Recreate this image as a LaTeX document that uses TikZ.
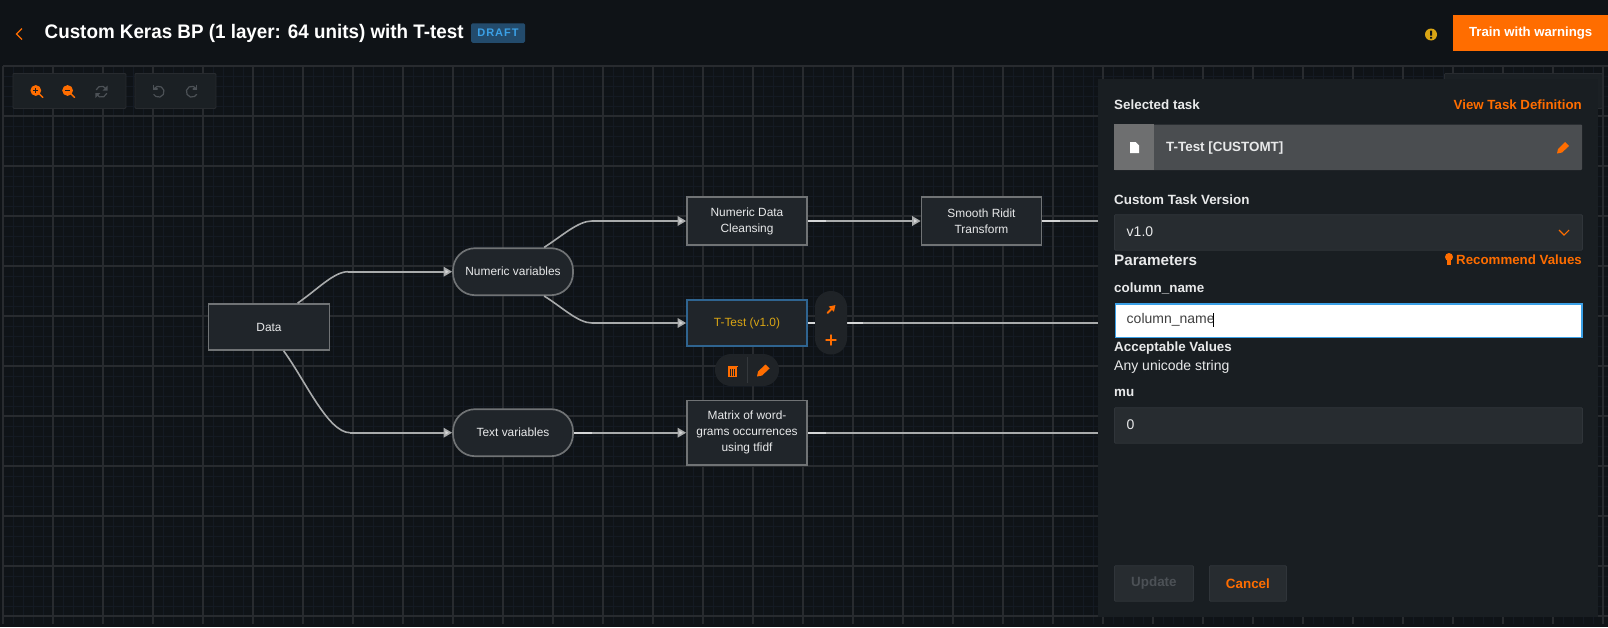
\documentclass[tikz,border=0pt]{standalone}
\usepackage{fontspec}
\setmainfont{Liberation Sans}
\newfontfamily\titlefont[FakeStretch=0.96]{Liberation Sans}
\usetikzlibrary{arrows.meta,calc,positioning}
\definecolor{pagebg}{HTML}{0F1317}
\definecolor{gridminor}{HTML}{141A23}
\definecolor{gridmajor}{HTML}{282B2F}
\definecolor{nodefill}{HTML}{20252A}
\definecolor{nodeline}{HTML}{707375}
\definecolor{edgecol}{HTML}{A9ABAC}
\definecolor{edgelight}{HTML}{D5D6D7}
\definecolor{panelbg}{HTML}{191E22}
\definecolor{fieldbg}{HTML}{272C30}
\definecolor{fieldline}{HTML}{30353A}
\definecolor{accent}{HTML}{FF6D00}
\definecolor{focusblue}{HTML}{3BA0E6}
\definecolor{selblue}{HTML}{2F6490}
\definecolor{ambertext}{HTML}{D9A514}
\definecolor{softwhite}{HTML}{E8E9EA}
\definecolor{disabledgray}{HTML}{4C5156}
\definecolor{toolbg}{HTML}{1B2024}
\definecolor{pilldivider}{HTML}{34383C}
\newcommand{\pxfont}[1]{\fontsize{#1}{16}\selectfont}
\tikzset{
  x=1pt,y=-1pt,
  rectnode/.style={draw=nodeline,line width=1.7pt,fill=nodefill,text=softwhite,minimum width=120pt,minimum height=47pt,align=center,inner sep=0pt,font=\pxfont{11.9}},
  pillnode/.style={rectnode,rounded corners=22pt},
  flowedge/.style={draw=edgecol,line width=1.6pt,-{Triangle[length=8.5pt,width=9.5pt,fill=edgelight]}},
  plainedge/.style={draw=edgecol,line width=1.6pt},
  edgestub/.style={draw=edgelight,line width=1.6pt},
  fieldlabel/.style={anchor=west,inner sep=0pt,text=softwhite,font=\pxfont{13.4}\bfseries},
  linktext/.style={anchor=east,inner sep=0pt,text=accent,font=\pxfont{13.3}\bfseries},
  fieldbox/.style={draw=fieldline,line width=0.8pt,fill=fieldbg,rounded corners=1pt,anchor=north west,inner sep=0pt},
  valuetext/.style={anchor=west,inner sep=0pt,text=softwhite,font=\pxfont{14}},
  toolbox/.style={draw=gridmajor,line width=0.8pt,fill=toolbg,rounded corners=1pt,anchor=north west,inner sep=0pt},
  pillbg/.style={fill=toolbg!70!gridmajor,draw=none},
  iconline/.style={draw=accent,line width=1.4pt,line cap=round},
  mutedicon/.style={draw=disabledgray,line width=1.2pt,line cap=round},
}
\begin{document}
\begin{tikzpicture}
\useasboundingbox (0,0) rectangle (1608,627);
\fill[pagebg] (0,0) rectangle (1608,627);
% grid
\foreach \gx in {3,13,...,1608} \draw[gridminor,line width=0.7pt] (\gx,66) -- (\gx,624);
\foreach \gy in {66,76,...,624} \draw[gridminor,line width=0.7pt] (3,\gy) -- (1608,\gy);
\foreach \gx in {3,53,...,1608} \draw[gridmajor,line width=1.2pt] (\gx,66) -- (\gx,624);
\foreach \gy in {66,116,...,624} \draw[gridmajor,line width=1.2pt] (3,\gy) -- (1608,\gy);
% header
\draw[accent,line width=1.3pt] (22,28.5) -- (16.5,34) -- (22,39.5);
\node[anchor=west,inner sep=0pt,text=white,font=\titlefont\pxfont{19.6}\bfseries] (title) at (44.5,33) {Custom Keras BP (1 layer: 64 units) with T-test};
\node[fill=selblue!75!black,rounded corners=1.5pt,minimum width=54pt,minimum height=19.5pt,inner sep=0pt,text=focusblue,font=\pxfont{11}\bfseries] (draft) at (498,33) {D\kern1pt R\kern1pt A\kern1pt F\kern1pt T};
\fill[ambertext] (1431,34.5) circle (6);
\fill[pagebg] (1430,30.5) rectangle (1432,35.5) (1430,36.8) rectangle (1432,38.6);
\node[fill=accent,minimum width=155pt,minimum height=36pt,inner sep=0pt,text=white,font=\pxfont{13.2}\bfseries,anchor=north west] (train) at (1453,15) {Train with warnings};
% toolbars
\node[toolbox,minimum width=113pt,minimum height=35pt] (tools1) at (12.5,73) {};
\node[toolbox,minimum width=81pt,minimum height=35pt] (tools2) at (134.5,73) {};
\foreach \zx/\sym in {36.8/1,68.6/0}{
  \fill[accent] (\zx-1,90.5) circle (5.4);
  \draw[accent,line width=1.4pt,line cap=round] (\zx+2.5,94) -- (\zx+6,97.5);
  \draw[toolbg,line width=1.2pt] (\zx-3.6,90.5) -- (\zx+1.6,90.5);
  \ifnum\sym=1 \draw[toolbg,line width=1.2pt] (\zx-1,87.9) -- (\zx-1,93.1); \fi
}
\draw[mutedicon] (96.2,89.8) arc (-160:-30:5.5);
\fill[disabledgray] (107.5,85.5) -- (107.5,90.5) -- (102.5,90.5) -- cycle;
\draw[mutedicon] (106.6,93.6) arc (20:150:5.5);
\fill[disabledgray] (95.3,98) -- (95.3,93) -- (100.3,93) -- cycle;
\draw[mutedicon] (153.8,88.95) arc (-150:150:5.5);
\draw[mutedicon] (153.8,85.5) -- (153.8,89) -- (157.3,89);
\draw[mutedicon] (196.6,88.95) arc (-30:-330:5.5);
\draw[mutedicon] (196.6,85.5) -- (196.6,89) -- (193.1,89);
% panel behind and panel
\node[toolbox,minimum width=158pt,minimum height=35pt] (ghost) at (1444,73) {};
\node[fill=panelbg,anchor=north west,minimum width=500pt,minimum height=538pt,inner sep=0pt] (panel) at (1098,79) {};
% graph nodes
\node[rectnode,minimum width=121pt,minimum height=46pt] (data) at (269,327) {Data};
\node[pillnode] (numeric) at (513,271.7) {Numeric variables};
\node[pillnode] (textvars) at (513,432.7) {Text variables};
\node[rectnode,minimum height=48pt] (cleansing) at (747,221) {Numeric Data\\Cleansing};
\node[rectnode,minimum height=48pt] (smooth) at (981.5,221) {Smooth Ridit\\Transform};
\node[rectnode,draw=selblue,text=ambertext,minimum height=46pt] (ttest) at (747,323) {T-Test (v1.0)};
\node[rectnode,minimum height=64.5pt] (matrix) at (747,432.7) {Matrix of word-\\grams occurrences\\using tfidf};
% connectors
\draw[plainedge] ($(data.north west)+(90,0)$) .. controls (318,289) and (334,271.7) .. (348,271.7) coordinate (c1);
\draw[flowedge] (c1) -- (numeric.west);
\draw[plainedge] ($(data.south west)+(76,0)$) .. controls (305,380) and (328,432.7) .. (350,432.7) coordinate (c2);
\draw[flowedge] (c2) -- (textvars.west);
\draw[plainedge] ($(numeric.north west)+(92,0)$) .. controls (562,236) and (578,221) .. (592,221) coordinate (c3);
\draw[flowedge] (c3) -- (cleansing.west);
\draw[plainedge] ($(numeric.south west)+(92,0)$) .. controls (562,307) and (578,323) .. (592,323) coordinate (c4);
\draw[flowedge] (c4) -- (ttest.west);
\draw[flowedge] (textvars.east) -- (matrix.west);
\draw[flowedge] (cleansing.east) -- (smooth.west);
\draw[plainedge] (smooth.east) -- (panel.west |- smooth.east);
\draw[plainedge] (ttest.east) -- (panel.west |- ttest.east);
\draw[plainedge] (matrix.east) -- (panel.west |- matrix.east);
\draw[edgestub] (textvars.east) -- ++(18,0);
\draw[edgestub] (cleansing.east) -- ++(18,0);
\draw[edgestub] (smooth.east) -- ++(18,0);
\draw[edgestub] (ttest.east) -- ++(55,0);
\draw[edgestub] (matrix.east) -- ++(18,0);
% T-test floating actions
\fill[pillbg,rounded corners=16pt] (815,291) rectangle (847,354.5);
\draw[iconline,line width=1.8pt,-{Triangle[length=6pt,width=7pt]}] (827.5,313) -- (835.5,305);
\draw[iconline] (831,335) -- (831,345) (826,340) -- (836,340);
\fill[pillbg,rounded corners=16pt] (715,354) rectangle (779,386);
\draw[pilldivider,line width=0.7pt] (747,357) -- (747,383);
\fill[accent] (727.5,365.5) rectangle (737.5,367);
\draw[accent,line width=1.5pt] (728.8,368) rectangle (736.2,376.5);
\draw[accent,line width=0.9pt] (731.5,369) -- (731.5,375.5) (733.5,369) -- (733.5,375.5);
\fill[accent] (757,376.5) -- (758,371.5) -- (765.5,364.5) -- (769.5,368.5) -- (762,375.5) -- cycle;
% panel content
\node[fieldlabel] (selected) at (1114,105) {Selected task};
\node[linktext] (viewdef) at (1582,105) {View Task Definition};
\node[fill=fieldbg!60!gray,rounded corners=1pt,anchor=north west,minimum width=468pt,minimum height=45.5pt,inner sep=0pt] (taskbar) at (1114,124.3) {};
\fill[gray!80!fieldbg] (1114,124.3) rectangle (1154,169.8);
\fill[white] (1130,142) -- (1135.5,142) -- (1139,145.5) -- (1139,153) -- (1130,153) -- cycle;
\node[anchor=west,inner sep=0pt,text=softwhite,font=\pxfont{13.4}\bfseries] (tasklabel) at (1166,147.6) {T-Test [CUSTOMT]};
\fill[accent] (1557,153.5) -- (1558,149) -- (1565,142) -- (1569,146) -- (1562,152.5) -- cycle;
\node[fieldlabel] (versionlabel) at (1114,200) {Custom Task Version};
\node[fieldbox,minimum width=468pt,minimum height=35.5pt] (version) at (1114,214.3) {};
\node[valuetext] (versionval) at (1126.5,232) {v1.0};
\draw[accent,line width=1.1pt] (1559,230) -- (1564,235) -- (1569,230);
\node[fieldlabel,font=\pxfont{15.2}\bfseries] (params) at (1114,260) {Parameters};
\node[linktext] (recommend) at (1582,260) {Recommend Values};
\fill[accent] (1449,257) circle (4);
\fill[accent] (1447,260) rectangle (1451,265);
\node[fieldlabel] (colname) at (1114,288) {column\_name};
\node[draw=focusblue,line width=1.6pt,fill=white,anchor=north west,minimum width=466.4pt,minimum height=33.4pt,inner sep=0pt] (colinput) at (1114.8,303.1) {};
\node[valuetext,text=black!75] (colval) at (1126.5,320) {column\_name};
\draw[black,line width=0.8pt] (1213.6,313) -- (1213.6,327);
\node[fieldlabel] (acceptable) at (1114,348) {Acceptable Values};
\node[valuetext] (anyval) at (1114,366.5) {Any unicode string};
\node[fieldlabel] (mulabel) at (1114,393) {mu};
\node[fieldbox,minimum width=468pt,minimum height=35.5pt] (muinput) at (1114,407.3) {};
\node[valuetext] (muval) at (1126.5,425) {0};
\node[fieldbox,minimum width=79pt,minimum height=35.5pt,text=disabledgray,font=\pxfont{13.4}\bfseries] (update) at (1114,565.3) {Update};
\node[fieldbox,minimum width=77pt,minimum height=35.5pt,text=accent,font=\pxfont{13.4}\bfseries] (cancel) at (1209,565.3) {Cancel};
\end{tikzpicture}
\end{document}
